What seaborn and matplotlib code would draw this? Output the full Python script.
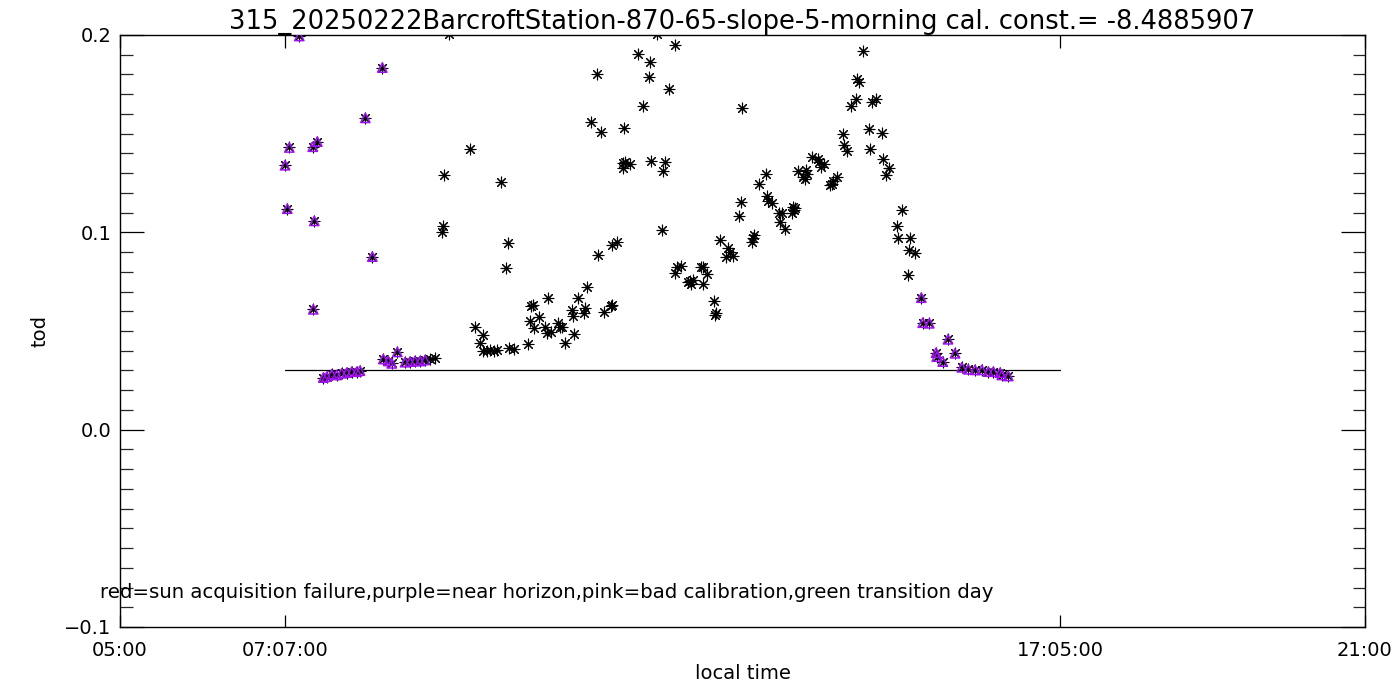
import numpy as np
import pandas as pd
import matplotlib
matplotlib.use("Agg")
import matplotlib.pyplot as plt
import seaborn as sns
from matplotlib.ticker import MultipleLocator

# local time in decimal hours, tod values
# near-horizon points (plotted purple on top of the asterisks)
hz_time = [7.121, 7.150, 7.176, 7.304, 7.477, 7.484, 7.497, 7.536,
           7.613, 7.657, 7.721, 7.785, 7.849, 7.914, 7.978, 8.042, 8.084,
           8.153, 8.243, 8.371, 8.384, 8.448, 8.492, 8.564,
           8.663, 8.727, 8.791, 8.856, 8.920,
           15.298, 15.316, 15.401, 15.487, 15.496, 15.573, 15.641, 15.731,
           15.818, 15.902, 15.988, 16.075, 16.159, 16.224, 16.310, 16.332, 16.416]
hz_tod = [0.134, 0.112, 0.143, 0.1995, 0.1434, 0.061, 0.1058, 0.146,
          0.0264, 0.0269, 0.0281, 0.0277, 0.0286, 0.0289, 0.0294, 0.0294, 0.0299,
          0.158, 0.0877, 0.1835, 0.0358, 0.0348, 0.0336, 0.0394,
          0.0342, 0.0345, 0.0348, 0.0348, 0.0353,
          0.0669, 0.0542, 0.0539, 0.039, 0.037, 0.0345, 0.0458, 0.0387,
          0.0316, 0.0306, 0.0303, 0.0303, 0.0294, 0.0294, 0.0289, 0.0277, 0.0272]

# remaining (good) points
day_time = [8.984, 9.048, 9.134, 9.155, 9.164, 9.228, 9.498, 9.562, 9.627, 9.661,
            9.665, 9.717, 9.755, 9.807, 9.845, 9.897, 9.965, 9.990, 10.003, 10.064,
            10.247, 10.269, 10.282, 10.312, 10.321, 10.389, 10.462, 10.484, 10.504, 10.535,
            10.633, 10.655, 10.677, 10.723, 10.805, 10.818, 10.839, 10.890, 10.967, 10.976,
            10.998, 11.057, 11.134, 11.147, 11.178, 11.224, 11.306, 11.319, 11.327, 11.391,
            11.461, 11.468, 11.477, 11.490, 11.555, 11.661, 11.722, 11.803, 11.811, 11.828,
            11.898, 11.970, 11.983, 12.000, 12.056, 12.137, 12.137, 12.162, 12.206, 12.304,
            12.326, 12.335, 12.368, 12.463, 12.489, 12.497, 12.540, 12.634, 12.647, 12.656,
            12.711, 12.788, 12.818, 12.840, 12.882, 12.959, 12.981, 12.998, 13.118, 13.139,
            13.152, 13.216, 13.298, 13.319, 13.332, 13.376, 13.469, 13.482, 13.504, 13.550,
            13.633, 13.645, 13.662, 13.675, 13.717, 13.782, 13.804, 13.816, 13.833, 13.890,
            13.967, 13.987, 14.005, 14.052, 14.125, 14.147, 14.160, 14.219, 14.296, 14.305,
            14.340, 14.391, 14.459, 14.476, 14.501, 14.553, 14.630, 14.639, 14.669, 14.716,
            14.797, 14.810, 14.841, 14.887, 14.982, 15.003, 15.054, 15.131, 15.140, 15.153,
            15.217]
day_tod = [0.0358, 0.0362, 0.1004, 0.1032, 0.129, 0.2005, 0.1423, 0.0522, 0.0441, 0.048,
           0.040, 0.0398, 0.0402, 0.0400, 0.0405, 0.1255, 0.082, 0.0945, 0.0413, 0.0408,
           0.0434, 0.0551, 0.0627, 0.063, 0.0517, 0.057, 0.0522, 0.0492, 0.0669, 0.0494,
           0.0539, 0.0522, 0.0522, 0.0438, 0.0607, 0.0576, 0.0484, 0.0669, 0.059, 0.0618,
           0.0725, 0.1558, 0.180, 0.0885, 0.1507, 0.0598, 0.0627, 0.0632, 0.0936, 0.0953,
           0.1325, 0.135, 0.1528, 0.1357, 0.1345, 0.1904, 0.164, 0.1786, 0.1865, 0.136,
           0.2005, 0.1012, 0.1313, 0.1357, 0.1725, 0.195, 0.0793, 0.0823, 0.0831, 0.075,
           0.0755, 0.0738, 0.076, 0.0826, 0.0823, 0.0738, 0.0789, 0.0654, 0.0581, 0.0593,
           0.0961, 0.0874, 0.0919, 0.0902, 0.088, 0.1085, 0.1152, 0.163, 0.0953, 0.097,
           0.0987, 0.1243, 0.1294, 0.1184, 0.116, 0.115, 0.11, 0.1054, 0.1097, 0.1016,
           0.11, 0.113, 0.1114, 0.1122, 0.131, 0.1282, 0.127, 0.1316, 0.1296, 0.138,
           0.137, 0.1358, 0.1333, 0.1345, 0.124, 0.1245, 0.126, 0.128, 0.1497, 0.1443,
           0.1414, 0.1642, 0.1675, 0.1776, 0.1762, 0.192, 0.1526, 0.1423, 0.1662, 0.1675,
           0.1502, 0.137, 0.129, 0.1328, 0.1032, 0.097, 0.1113, 0.0784, 0.0911, 0.097,
           0.0894]

cal_start = 7 + 7 / 60      # 07:07:00
cal_end = 17 + 5 / 60       # 17:05:00
cal_level = 0.0303

xtick_pos = [5, cal_start, cal_end, 21]
xtick_lab = ["05:00", "07:07:00", "17:05:00", "21:00"]
ytick_pos = [-0.1, 0.0, 0.1, 0.2]
ytick_lab = ["\u22120.1", "0.0", "0.1", "0.2"]

title = "315_20250222BarcroftStation-870-65-slope-5-morning cal. const.= -8.4885907"
note = "red=sun acquisition failure,purple=near horizon,pink=bad calibration,green transition day"
purple = "#A010F0"

all_df = pd.DataFrame({"time": hz_time + day_time, "tod": hz_tod + day_tod})
hz_df = pd.DataFrame({"time": hz_time, "tod": hz_tod})

sns.set_theme(style="white")
plt.rcParams["font.family"] = ["DejaVu Sans"]
plt.rcParams["text.color"] = "black"
plt.rcParams["axes.labelcolor"] = "black"

fig = plt.figure(figsize=(14, 7), dpi=100)
ax = fig.add_axes([120 / 1400, 1 - 627 / 700, 1245 / 1400, 592 / 700])

sns.scatterplot(data=all_df, x="time", y="tod", marker=(8, 2, 0), s=60,
                color="black", linewidth=0.8, ax=ax, zorder=3)
sns.scatterplot(data=hz_df, x="time", y="tod", marker="^", s=45,
                facecolor="none", edgecolor=purple, linewidth=1.1, ax=ax, zorder=4)
ax.plot([cal_start, cal_end], [cal_level, cal_level], color="black", lw=0.9)

ax.set_xlim(5, 21)
ax.set_ylim(-0.1, 0.2)
ax.set_xticks(xtick_pos)
ax.set_xticklabels(xtick_lab)
ax.set_yticks(ytick_pos)
ax.set_yticklabels(ytick_lab)
ax.yaxis.set_minor_locator(MultipleLocator(0.01))
ax.tick_params(axis="x", which="both", direction="in", top=True, bottom=True,
               length=9, width=0.9, pad=10, labelsize=14, colors="black")
ax.tick_params(axis="y", which="major", direction="in", left=True, right=True,
               length=17, width=0.9, pad=6, labelsize=14, colors="black")
ax.tick_params(axis="y", which="minor", direction="in", left=True, right=True,
               length=9, width=0.9)
for sp in ax.spines.values():
    sp.set_color("black")
    sp.set_linewidth(1.0)

ax.set_xlabel("local time", fontsize=14)
ax.xaxis.set_label_coords(0.5, -(671 - 627) / 592 + 0.012)
ax.set_ylabel("tod", fontsize=14)
ax.yaxis.set_label_coords(-(120 - 50) / 1245, 0.5)
ax.set_title(title, fontsize=18.5, pad=4)
fig.text(100 / 1400, 1 - 593 / 700, note, fontsize=14.2, va="center", ha="left")

fig.savefig("out.png", dpi=100)
